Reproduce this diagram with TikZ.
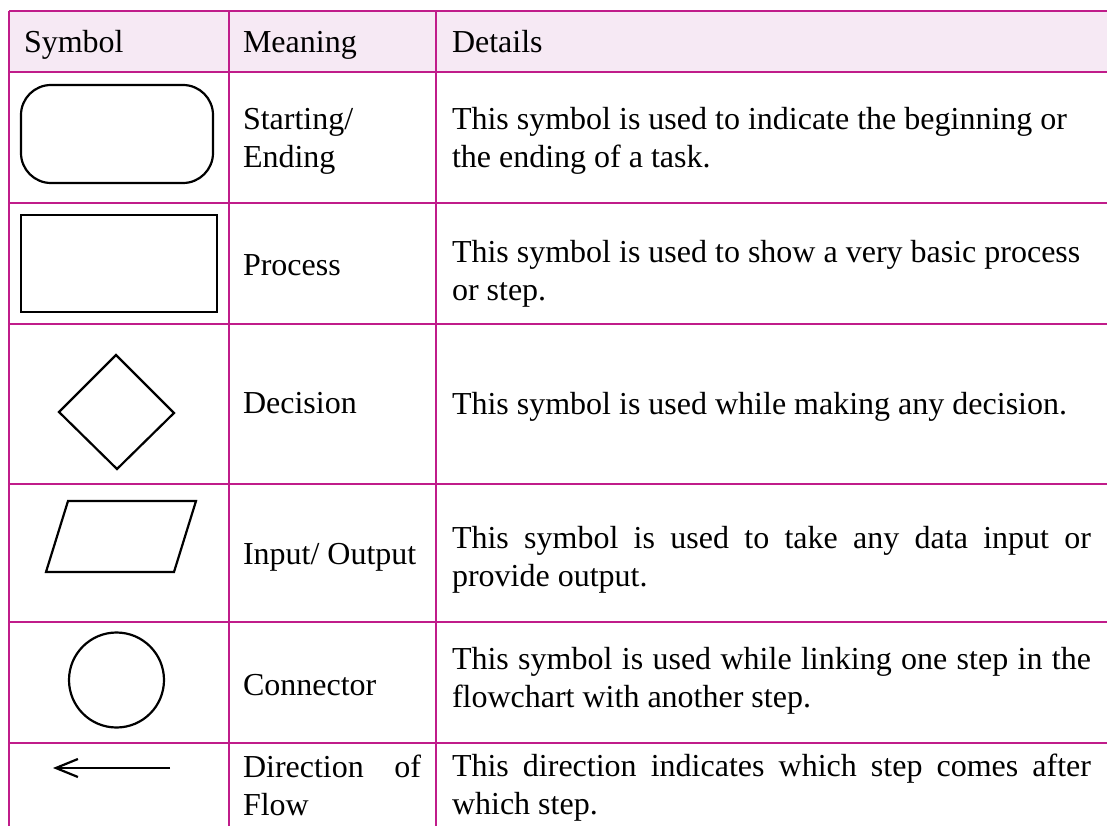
\documentclass[tikz,border=0pt]{standalone}
\usepackage{fontspec}
\setmainfont{Liberation Serif}
\usetikzlibrary{arrows.meta}
\definecolor{tabline}{RGB}{192,28,138}
\definecolor{headfill}{RGB}{246,233,244}
\newcommand\mycellfont{\fontsize{32}{38}\selectfont\hyphenpenalty=10000\relax\exhyphenpenalty=10000\relax}
\tikzset{
  hline/.style={draw=tabline, line width=2pt},
  vline/.style={draw=tabline, line width=1.3pt},
  shapeline/.style={draw=black, line width=2.2pt, line join=miter},
  celltext/.style={anchor=base west, inner sep=0pt, outer sep=0pt, font=\mycellfont},
  meanbox/.style={celltext, text width=178pt, align=justify},
  detleft/.style={celltext, text width=639pt, align=flush left},
  detjust/.style={celltext, text width=639pt, align=justify},
}
\begin{document}
\begin{tikzpicture}[x=1pt,y=-1pt]
\useasboundingbox (0,0) rectangle (1107,826);
% header fill
\fill[headfill] (9,11) rectangle (1107,72);
% horizontal rules
\foreach \yy in {11,72,203,324,484,622,743} {\draw[hline] (9,\yy) -- (1107,\yy);}
% vertical rules
\foreach \xx in {9,229,436} {\draw[vline] (\xx,11) -- (\xx,826);}
% header
\node[celltext] (hsym) at (24,53) {Symbol};
\node[celltext] (hmean) at (243,53) {Meaning};
\node[celltext] (hdet) at (452,53) {Details};
% row 1
\draw[shapeline, rounded corners=30pt] (21,85) rectangle (213,183);
\node[meanbox, align=flush left] (m1) at (243,130) {Starting/\\Ending};
\node[detleft] (d1) at (452,130) {This symbol is used to indicate the beginning or the ending of a task.};
% row 2
\draw[shapeline] (21,215) rectangle (217,312);
\node[celltext] (m2) at (243,275) {Process};
\node[detleft] (d2) at (452,262) {This symbol is used to show a very basic process or step.};
% row 3
\draw[shapeline] (59,412) -- (116,355) -- (174,413) -- (117,469) -- cycle;
\node[celltext] (m3) at (243,413) {Decision};
\node[detleft] (d3) at (452,414) {This symbol is used while making any decision.};
% row 4
\draw[shapeline] (68,501) -- (196,501) -- (174,572) -- (46,572) -- cycle;
\node[celltext] (m4) at (243,564) {Input/ Output};
\node[detjust] (d4) at (452,548) {This symbol is used to take any data input or provide output.};
% row 5
\draw[shapeline] (116.5,680) circle[radius=47.5];
\node[celltext] (m5) at (243,695) {Connector};
\node[detjust] (d5) at (452,669) {This symbol is used while linking one step in the flowchart with another step.};
% row 6
\coordinate (arrS) at (170,768);
\coordinate (arrE) at (53,768);
\draw[line width=2.2pt, -{Straight Barb[length=22pt,width=18pt,line width=2.2pt]}] (arrS) -- (arrE);
\node[meanbox] (m6) at (243,777) {Direction of Flow};
\node[detjust] (d6) at (452,776) {This direction indicates which step comes after which step.};
\end{tikzpicture}
\end{document}
